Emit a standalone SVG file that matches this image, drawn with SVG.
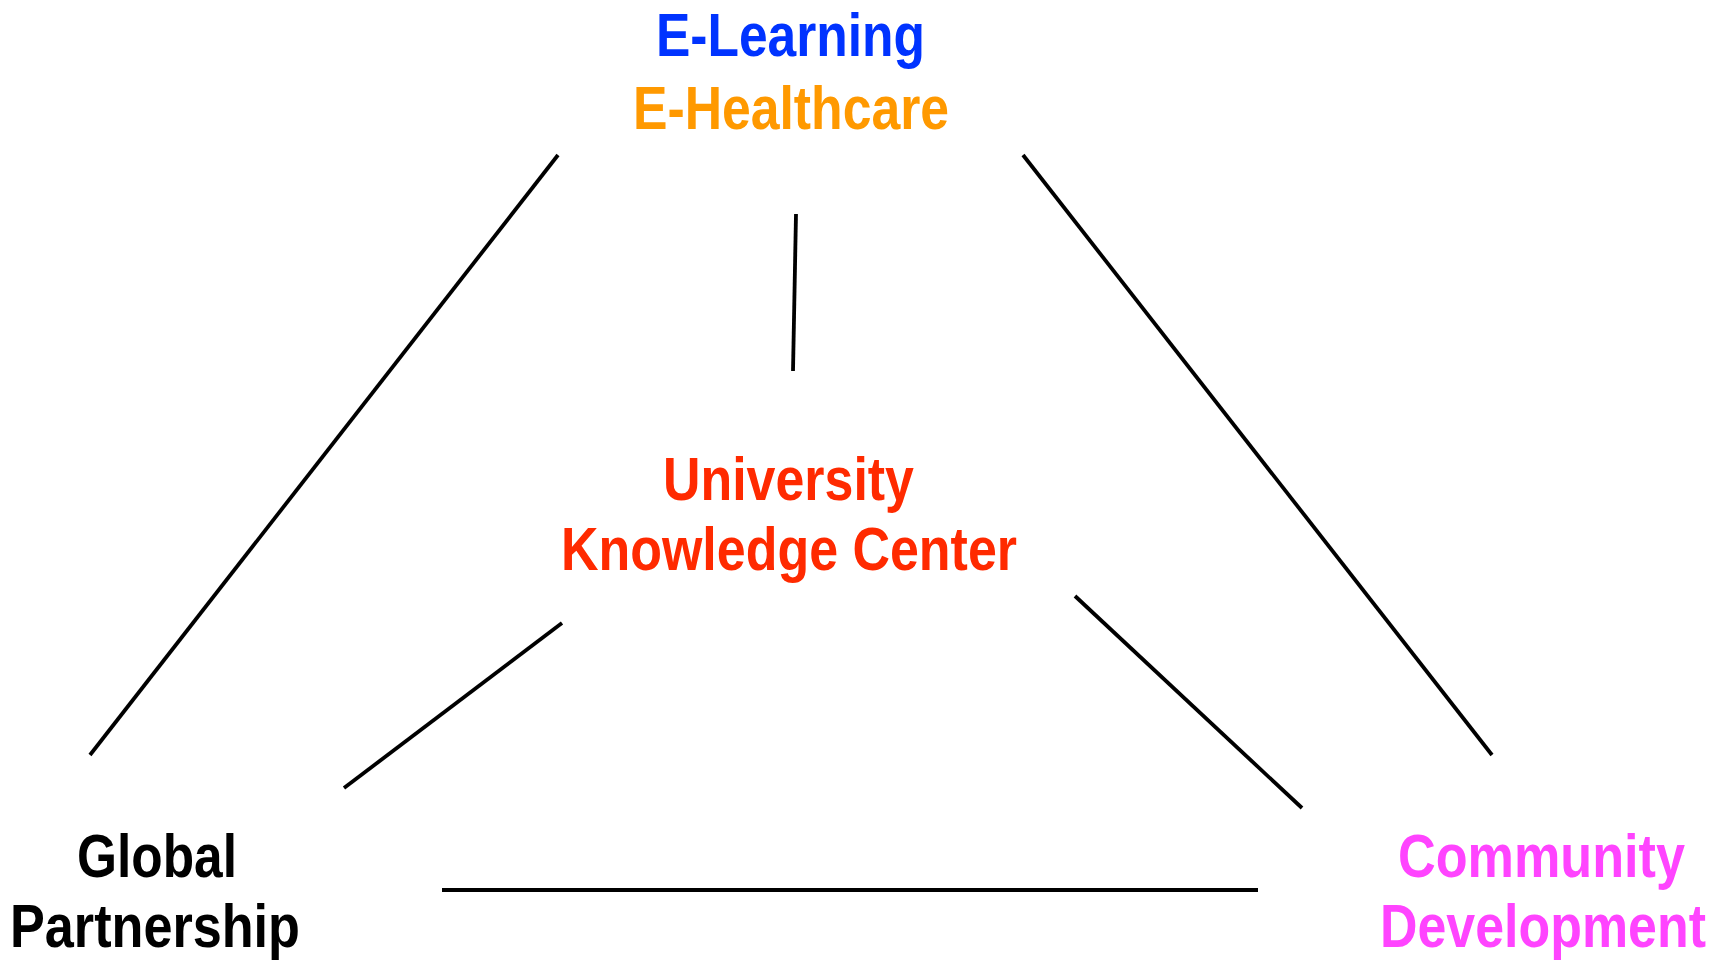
<svg xmlns="http://www.w3.org/2000/svg" width="1721" height="961" viewBox="0 0 1721 961">
<style>
.t{font-family:"Liberation Sans Narrow","Liberation Sans",Arial,sans-serif;font-weight:bold;font-size:62px}
.c line{stroke:#000;stroke-width:3.8;stroke-linecap:butt}
</style>
<rect width="1721" height="961" fill="#fff"/>
<g id="connectors" class="c">
<line x1="558" y1="155" x2="90" y2="755"/>
<line x1="1023" y1="155" x2="1492" y2="755"/>
<line x1="796" y1="214" x2="793" y2="371"/>
<line x1="562" y1="623" x2="344" y2="788"/>
<line x1="1075" y1="596" x2="1302" y2="808"/>
<line x1="442" y1="890" x2="1258" y2="890"/>
</g>
<g id="top">
<text class="t" x="656" y="56" textLength="269" lengthAdjust="spacingAndGlyphs" fill="#0033FF">E-Learning</text>
<text class="t" x="633" y="129" textLength="316" lengthAdjust="spacingAndGlyphs" fill="#FF9900">E-Healthcare</text>
</g>
<g id="center">
<text class="t" x="663" y="500" textLength="251" lengthAdjust="spacingAndGlyphs" fill="#FF2A00">University</text>
<text class="t" x="561" y="570" textLength="456" lengthAdjust="spacingAndGlyphs" fill="#FF2A00">Knowledge Center</text>
</g>
<g id="global">
<text class="t" x="77" y="877" textLength="160" lengthAdjust="spacingAndGlyphs" fill="#000">Global</text>
<text class="t" x="10" y="947" textLength="290" lengthAdjust="spacingAndGlyphs" fill="#000">Partnership</text>
</g>
<g id="community">
<text class="t" x="1398" y="877" textLength="287" lengthAdjust="spacingAndGlyphs" fill="#FF44FF">Community</text>
<text class="t" x="1380" y="947" textLength="326" lengthAdjust="spacingAndGlyphs" fill="#FF44FF">Development</text>
</g>
</svg>
